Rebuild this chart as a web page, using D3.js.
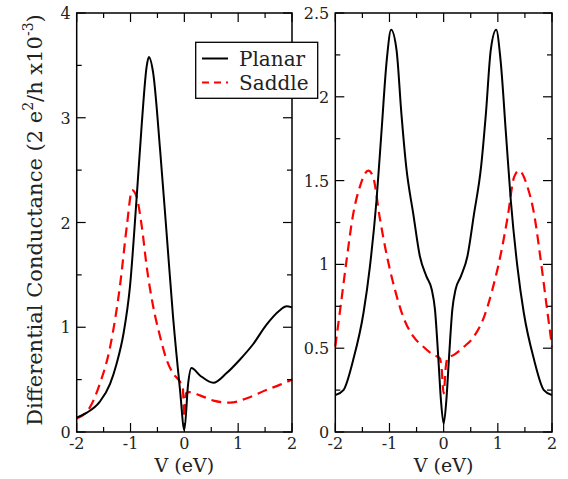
<!DOCTYPE html>
<html>
<head>
<meta charset="utf-8">
<script src="https://cdn.jsdelivr.net/npm/d3@7"></script>
<style>
  body { margin: 0; background: #fff; }
</style>
</head>
<body>
<div id="chart-area"></div>
<script>

// Data
var voltage = ["-2", "-1", "0", "1", "2"];

// left panel
var leftPlanarV = [-2, -1.81, -1.57, -1.38, -1.26, -1.13, -1.01, -0.89, -0.79, -0.70, -0.66, -0.58, -0.45, -0.33, -0.21, -0.08, 0.0, 0.07, 0.13, 0.29, 0.54, 0.78, 1.03, 1.28, 1.52, 1.77, 1.90, 2.0];
var leftPlanarG = [0.137, 0.185, 0.29, 0.46, 0.65, 0.94, 1.39, 2.21, 2.95, 3.49, 3.58, 3.43, 2.69, 1.90, 1.10, 0.40, 0.02, 0.46, 0.61, 0.54, 0.47, 0.56, 0.69, 0.84, 1.02, 1.16, 1.20, 1.19];

var leftSaddleV = [-2, -1.75, -1.57, -1.38, -1.19, -1.07, -0.97, -0.89, -0.79, -0.70, -0.58, -0.45, -0.33, -0.21, -0.08, -0.03, 0.0, 0.03, 0.10, 0.29, 0.54, 0.85, 1.15, 1.52, 1.77, 2.0];
var leftSaddleG = [0.13, 0.24, 0.46, 0.81, 1.42, 1.96, 2.31, 2.25, 1.96, 1.58, 1.20, 0.91, 0.69, 0.56, 0.48, 0.43, 0.14, 0.37, 0.38, 0.35, 0.30, 0.28, 0.32, 0.40, 0.45, 0.50];

// right panel
var rightPlanarV = [-2, -1.85, -1.67, -1.48, -1.36, -1.24, -1.15, -1.05, -0.97, -0.87, -0.78, -0.69, -0.56, -0.44, -0.32, -0.22, -0.16, -0.10, -0.05, 0, 0.05, 0.10, 0.16, 0.22, 0.32, 0.44, 0.56, 0.69, 0.78, 0.87, 0.97, 1.05, 1.15, 1.24, 1.36, 1.48, 1.67, 1.85, 2];
var rightPlanarG = [0.22, 0.25, 0.43, 0.71, 0.99, 1.38, 1.78, 2.22, 2.40, 2.28, 1.90, 1.58, 1.30, 1.05, 0.93, 0.85, 0.73, 0.45, 0.19, 0.05, 0.19, 0.45, 0.73, 0.85, 0.93, 1.05, 1.30, 1.58, 1.90, 2.28, 2.40, 2.22, 1.78, 1.38, 0.99, 0.71, 0.43, 0.25, 0.22];

var rightSaddleV = [-2, -1.91, -1.79, -1.67, -1.55, -1.39, -1.30, -1.18, -1.06, -0.90, -0.75, -0.56, -0.38, -0.19, -0.07, -0.04, 0, 0.04, 0.07, 0.19, 0.38, 0.56, 0.75, 0.90, 1.06, 1.18, 1.30, 1.39, 1.55, 1.67, 1.79, 1.91, 2];
var rightSaddleG = [0.51, 0.73, 1.03, 1.30, 1.46, 1.56, 1.52, 1.28, 1.07, 0.85, 0.69, 0.57, 0.51, 0.46, 0.44, 0.39, 0.23, 0.39, 0.44, 0.46, 0.51, 0.57, 0.69, 0.85, 1.07, 1.28, 1.52, 1.56, 1.46, 1.30, 1.03, 0.73, 0.51];

var seriesNames = ["Planar", "Saddle"];

var svg = d3.select("#chart-area").append("svg")
    .attr("width", 568)
    .attr("height", 479)
    .attr("font-family", "'DejaVu Serif', serif")
    .attr("fill", "#222");

var top_ = 13, bottom = 432;

function zip(xs, ys) {
    return xs.map(function(v, i) { return [v, ys[i]]; });
}

function drawPanel(left, right, yMax, yStep, planar, saddle) {
    var x = d3.scaleLinear().domain([-2, 2]).range([left, right]);
    var y = d3.scaleLinear().domain([0, yMax]).range([bottom, top_]);

    var line = d3.line()
        .x(function(d) { return x(d[0]); })
        .y(function(d) { return y(d[1]); })
        .curve(d3.curveMonotoneX);

    var g = svg.append("g");

    g.append("path")
        .attr("d", line(saddle))
        .attr("fill", "none")
        .attr("stroke", "#f00")
        .attr("stroke-width", 2.2)
        .attr("stroke-dasharray", "10,6");

    g.append("path")
        .attr("d", line(planar))
        .attr("fill", "none")
        .attr("stroke", "#000")
        .attr("stroke-width", 2);

    // ticks inside on all four sides
    var xMajor = d3.range(-2, 2.001, 1), xMinor = d3.range(-1.5, 2, 1);
    var yMajor = d3.range(0, yMax + 0.001, yStep), yMinor = d3.range(yStep / 2, yMax, yStep);
    var ticks = g.append("g").attr("stroke", "#000").attr("stroke-width", 1.2);
    function xt(vals, len) {
        vals.forEach(function(v) {
            ticks.append("line").attr("x1", x(v)).attr("x2", x(v)).attr("y1", bottom).attr("y2", bottom - len);
            ticks.append("line").attr("x1", x(v)).attr("x2", x(v)).attr("y1", top_).attr("y2", top_ + len);
        });
    }
    function yt(vals, len) {
        vals.forEach(function(v) {
            ticks.append("line").attr("y1", y(v)).attr("y2", y(v)).attr("x1", left).attr("x2", left + len);
            ticks.append("line").attr("y1", y(v)).attr("y2", y(v)).attr("x1", right).attr("x2", right - len);
        });
    }
    xt(xMajor, 9); xt(xMinor, 5);
    yt(yMajor, 9); yt(yMinor, 5);

    g.append("rect")
        .attr("x", left).attr("y", top_)
        .attr("width", right - left).attr("height", bottom - top_)
        .attr("fill", "none").attr("stroke", "#000").attr("stroke-width", 1.5);

    // tick labels
    g.selectAll(".xl").data(xMajor).enter().append("text")
        .attr("x", function(d) { return x(d); })
        .attr("y", bottom + 17)
        .attr("text-anchor", "middle")
        .attr("font-size", 16)
        .text(function(d, i) { return voltage[i]; });

    g.selectAll(".yl").data(yMajor).enter().append("text")
        .attr("x", left - 6)
        .attr("y", function(d) { return y(d) + 6; })
        .attr("text-anchor", "end")
        .attr("font-size", 16)
        .text(function(d) { return d3.format("~g")(+d.toFixed(2)); });

    g.append("text")
        .attr("x", (left + right) / 2)
        .attr("y", 472)
        .attr("text-anchor", "middle")
        .attr("font-size", 19)
        .text("V (eV)");
}

drawPanel(76.7, 292, 4, 1, zip(leftPlanarV, leftPlanarG), zip(leftSaddleV, leftSaddleG));
drawPanel(335.3, 552, 2.5, 0.5, zip(rightPlanarV, rightPlanarG), zip(rightSaddleV, rightSaddleG));

// y axis label
var ylab = svg.append("text")
    .attr("transform", "translate(42,220) rotate(-90)")
    .attr("text-anchor", "middle")
    .attr("font-size", 21);
ylab.append("tspan").text("Differential Conductance (2 e");
ylab.append("tspan").attr("dy", -9).attr("font-size", 14).text("2");
ylab.append("tspan").attr("dy", 9).text("/h x10");
ylab.append("tspan").attr("dy", -9).attr("font-size", 14).text("-3");
ylab.append("tspan").attr("dy", 9).text(")");

// legend
var legend = svg.append("g");
legend.append("rect")
    .attr("x", 195.7).attr("y", 42.3)
    .attr("width", 122).attr("height", 56)
    .attr("fill", "#fff").attr("stroke", "#000").attr("stroke-width", 1.3);
legend.selectAll("line").data(seriesNames).enter().append("line")
    .attr("x1", 202).attr("x2", 228)
    .attr("y1", function(d, i) { return 58.5 + i * 24; })
    .attr("y2", function(d, i) { return 58.5 + i * 24; })
    .attr("stroke", function(d, i) { return i ? "#f00" : "#000"; })
    .attr("stroke-width", 2)
    .attr("stroke-dasharray", function(d, i) { return i ? "7,5" : null; });
legend.selectAll("text").data(seriesNames).enter().append("text")
    .attr("x", 239)
    .attr("y", function(d, i) { return 65.5 + i * 24; })
    .attr("font-size", 20)
    .text(function(d) { return d; });

</script>
</body>
</html>
